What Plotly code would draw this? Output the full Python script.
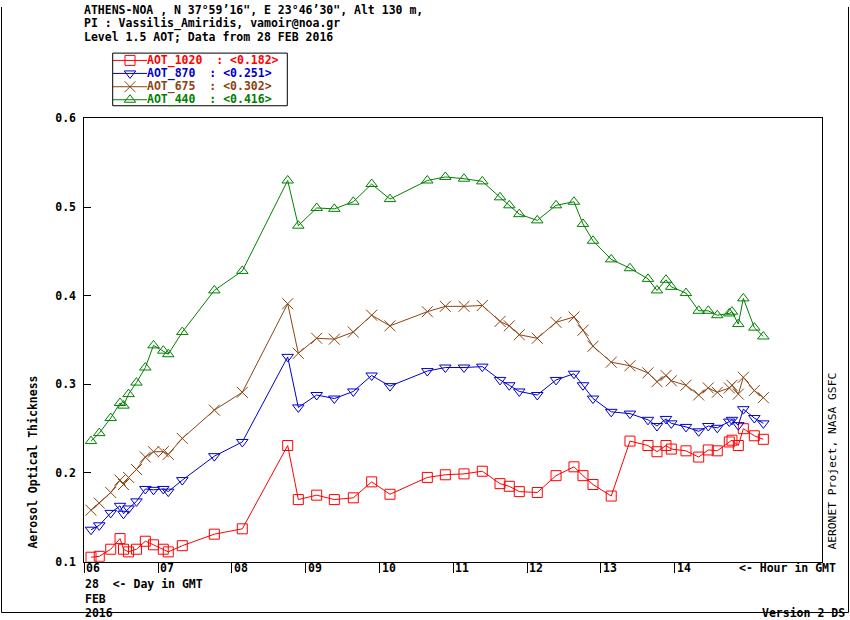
import plotly.graph_objects as go

W, H = 850, 620
# the photographed page shows a slight vertical offset/compression; compensate
VA, VB = 0.977, 5.6


def X(px):
    return px / W


def Y(py):
    page = (py - VB) / VA
    return 1 - page / H


# ---------------- data ----------------
hours = [6.091, 6.203, 6.358, 6.484, 6.531, 6.600, 6.707, 6.827, 6.938, 7.070,
         7.138, 7.328, 7.762, 8.141, 8.756, 8.900, 9.149, 9.388, 9.645, 9.894,
         10.142, 10.648, 10.892, 11.145, 11.393, 11.633, 11.759, 11.894, 12.138, 12.392,
         12.635, 12.757, 12.893, 13.140, 13.394, 13.638, 13.760, 13.882, 13.954, 14.153,
         14.325, 14.455, 14.577, 14.740, 14.776, 14.862, 14.930, 15.079, 15.201]

aot_1020 = [0.105, 0.106, 0.114, 0.126, 0.114, 0.111, 0.114, 0.123, 0.119, 0.114,
            0.111, 0.118, 0.131, 0.137, 0.231, 0.170, 0.175, 0.170, 0.172, 0.190,
            0.176, 0.195, 0.198, 0.199, 0.202, 0.188, 0.185, 0.179, 0.178, 0.197,
            0.207, 0.197, 0.187, 0.174, 0.236, 0.231, 0.224, 0.231, 0.227, 0.225,
            0.218, 0.226, 0.225, 0.235, 0.237, 0.231, 0.250, 0.242, 0.238]

aot_870 = [0.136, 0.141, 0.155, 0.163, 0.154, 0.160, 0.168, 0.182, 0.181, 0.182,
           0.179, 0.192, 0.219, 0.235, 0.331, 0.274, 0.288, 0.284, 0.292, 0.310,
           0.298, 0.315, 0.319, 0.319, 0.320, 0.305, 0.299, 0.292, 0.288, 0.305,
           0.312, 0.299, 0.284, 0.269, 0.267, 0.260, 0.253, 0.261, 0.256, 0.252,
           0.247, 0.253, 0.251, 0.258, 0.260, 0.254, 0.272, 0.262, 0.256]

aot_675 = [0.158, 0.166, 0.178, 0.192, 0.187, 0.195, 0.204, 0.218, 0.224, 0.224,
           0.221, 0.239, 0.271, 0.291, 0.391, 0.335, 0.352, 0.351, 0.359, 0.378,
           0.366, 0.382, 0.388, 0.388, 0.389, 0.371, 0.366, 0.356, 0.352, 0.370,
           0.376, 0.361, 0.343, 0.325, 0.321, 0.313, 0.303, 0.310, 0.304, 0.299,
           0.288, 0.296, 0.291, 0.296, 0.299, 0.289, 0.308, 0.293, 0.285]

aot_440 = [0.236, 0.245, 0.262, 0.279, 0.276, 0.289, 0.302, 0.319, 0.344, 0.338,
           0.334, 0.359, 0.406, 0.428, 0.530, 0.479, 0.499, 0.498, 0.506, 0.526,
           0.509, 0.530, 0.534, 0.532, 0.529, 0.511, 0.502, 0.492, 0.485, 0.502,
           0.506, 0.481, 0.462, 0.441, 0.431, 0.419, 0.406, 0.418, 0.410, 0.403,
           0.383, 0.383, 0.378, 0.380, 0.382, 0.368, 0.397, 0.364, 0.354]

series_names = ["AOT_1020", "AOT_870", "AOT_675", "AOT_440"]
series_means = ["0.182", "0.251", "0.302", "0.416"]
series_values = [aot_1020, aot_870, aot_675, aot_440]

hour_ticks = [6, 7, 8, 9, 10, 11, 12, 13, 14]
hour_labels = ["06", "07", "08", "09", "10", "11", "12", "13", "14"]
y_ticks = [0.1, 0.2, 0.3, 0.4, 0.5, 0.6]

title_lines = [
    "ATHENS-NOA , N 37°59’16\", E 23°46’30\", Alt 130 m,",
    "PI : Vassilis_Amiridis, vamoir@noa.gr",
    "Level 1.5 AOT; Data from 28 FEB 2016",
]

# ---------------- styles ----------------
colors = ["#FF0000", "#0000CD", "#8B4513", "#008000"]
symbols = ["square-open", "triangle-down-open", "x-thin-open", "triangle-up-open"]
sizes = [10, 10, 11, 10]
pads = ["\u00a0\u00a0", "\u00a0\u00a0", "\u00a0\u00a0", "\u00a0\u00a0"]

MONO = "DejaVu Sans Mono"
FS = 11.5

fig = go.Figure()

for name, vals, c, s, sz in zip(series_names, series_values, colors, symbols, sizes):
    fig.add_trace(go.Scatter(
        x=hours, y=vals, mode="lines+markers", name=name, showlegend=False,
        line=dict(color=c, width=1),
        marker=dict(symbol=s, size=sz, color=c, line=dict(color=c, width=1)),
        xaxis="x", yaxis="y",
    ))

# ---------------- custom legend ----------------
leg_top, leg_bot = 51.7, 104.3
leg_rows = [59, 72, 85.3, 98.3]
shapes = []
annotations = []
for i, (name, mean, c, s, sz, pad) in enumerate(zip(series_names, series_means, colors,
                                                   symbols, sizes, pads)):
    ry = leg_rows[i]
    shapes.append(dict(type="line", xref="paper", yref="paper",
                       x0=X(113), x1=X(147), y0=Y(ry), y1=Y(ry),
                       line=dict(color=c, width=1)))
    fig.add_trace(go.Scatter(
        x=[0.5], y=[Y(ry)], mode="markers", showlegend=False, hoverinfo="skip",
        marker=dict(symbol=s, size=sz, color=c, line=dict(color=c, width=1)),
        xaxis="x2", yaxis="y2", cliponaxis=False,
    ))
    annotations.append(dict(
        xref="paper", yref="paper", x=X(146), y=Y(ry), xanchor="left", yanchor="middle",
        text=f"<b>{name}{pad}:\u00a0&lt;{mean}&gt;</b>", showarrow=False,
        font=dict(family=MONO, size=FS, color=c), borderpad=0,
    ))

shapes.append(dict(type="rect", xref="paper", yref="paper",
                   x0=X(112.7), x1=X(287.3), y0=Y(leg_bot), y1=Y(leg_top),
                   line=dict(color="black", width=1)))

# outer frame (left, right, bottom)
frame_bottom = max(Y(619), 0.5 / H)
shapes.append(dict(type="line", xref="paper", yref="paper", x0=X(1.5), x1=X(1.5),
                   y0=1, y1=frame_bottom, line=dict(color="black", width=1)))
shapes.append(dict(type="line", xref="paper", yref="paper", x0=X(848.5), x1=X(848.5),
                   y0=1, y1=frame_bottom, line=dict(color="black", width=1)))
shapes.append(dict(type="line", xref="paper", yref="paper", x0=X(1.5), x1=X(848.5),
                   y0=frame_bottom, y1=frame_bottom, line=dict(color="black", width=1)))

# title lines
for line, py in zip(title_lines, [8.5, 22.5, 36]):
    annotations.append(dict(
        xref="paper", yref="paper", x=X(83), y=Y(py), xanchor="left", yanchor="middle",
        text=f"<b>{line}</b>", showarrow=False, borderpad=0,
        font=dict(family=MONO, size=FS, color="black"),
    ))

# x tick labels (left aligned next to the tick)
for h, lab in zip(hour_ticks, hour_labels):
    annotations.append(dict(
        xref="x", yref="paper", x=h, y=Y(566.5), xanchor="left", yanchor="middle",
        xshift=1, text=f"<b>{lab}</b>", showarrow=False, borderpad=0,
        font=dict(family=MONO, size=FS, color="black"),
    ))

other_texts = [
    ("<b>&lt;- Hour in GMT</b>", 738, 566.5, "left"),
    ("<b>28\u00a0\u00a0&lt;- Day in GMT</b>", 84, 582, "left"),
    ("<b>FEB</b>", 84, 597, "left"),
    ("<b>2016</b>", 84, 611.5, "left"),
    ("<b>Version 2 DS</b>", 846, 611, "right"),
]
for txt, px, py, anc in other_texts:
    annotations.append(dict(
        xref="paper", yref="paper", x=X(px), y=Y(py), xanchor=anc, yanchor="middle",
        text=txt, showarrow=False, borderpad=0,
        font=dict(family=MONO, size=FS, color="black"),
    ))

annotations.append(dict(
    xref="paper", yref="paper", x=X(33), y=Y(461), xanchor="center", yanchor="middle",
    text="<b>Aerosol Optical Thickness</b>", textangle=-90, showarrow=False,
    font=dict(family=MONO, size=FS, color="black"),
))
annotations.append(dict(
    xref="paper", yref="paper", x=X(833), y=Y(460), xanchor="center", yanchor="middle",
    text="AERONET Project, NASA GSFC", textangle=-90, showarrow=False,
    font=dict(family=MONO, size=11.3, color="black"),
))

fig.update_layout(
    width=W, height=H,
    margin=dict(l=0, r=0, t=0, b=0),
    paper_bgcolor="white", plot_bgcolor="rgba(0,0,0,0)",
    showlegend=False,
    font=dict(family=MONO, size=FS, color="black"),
    xaxis=dict(
        domain=[X(84.3), X(822.3)], range=[6, 16],
        tickvals=hour_ticks, showticklabels=False,
        ticks="outside", ticklen=10, tickcolor="black", tickwidth=1,
        showline=True, linecolor="black", linewidth=1, mirror=True,
        showgrid=False, zeroline=False, anchor="y",
    ),
    yaxis=dict(
        domain=[Y(560), Y(117)], range=[0.1, 0.6],
        tickvals=y_ticks, tickformat=".1f",
        ticks="inside", ticklen=7, tickcolor="black", tickwidth=1,
        showline=True, linecolor="black", linewidth=1, mirror=True,
        showgrid=False, zeroline=False, anchor="x",
        tickfont=dict(family=MONO, size=FS, color="black", weight="bold"),
        ticklabelstandoff=5,
    ),
    xaxis2=dict(domain=[X(113), X(147)], range=[0, 1], visible=False,
                anchor="y2", fixedrange=True),
    yaxis2=dict(domain=[Y(leg_bot), Y(leg_top)], range=[Y(leg_bot), Y(leg_top)],
                visible=False, anchor="x2", fixedrange=True),
    shapes=shapes,
    annotations=annotations,
)

post = (
    "var s='margin:0;padding:0;overflow:hidden;width:850px;height:620px;';"
    "document.documentElement.style.cssText=s;"
    "document.body.style.cssText=s;"
    "var g=document.querySelector('.plotly-graph-div');"
    "g.style.position='absolute';g.style.left='0px';g.style.top='0px';"
)

fig.write_html("out.html", config={"displayModeBar": False}, post_script=post)
